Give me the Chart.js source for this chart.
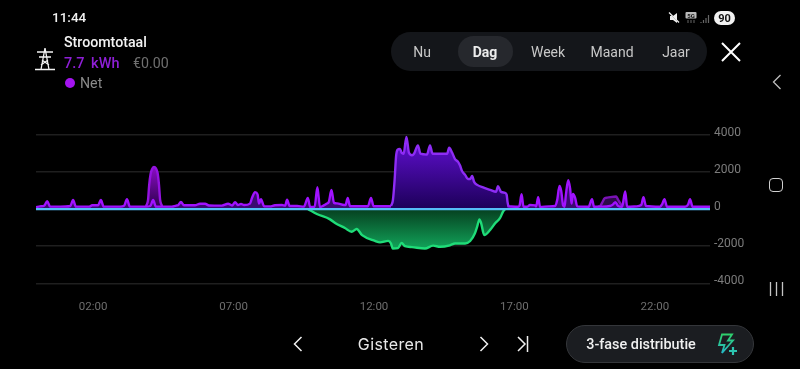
<!DOCTYPE html>
<html><head><meta charset="utf-8">
<style>
html,body{margin:0;padding:0;background:#000;width:800px;height:369px;overflow:hidden;font-family:Roboto,sans-serif;color:#fff}
canvas{position:absolute;left:0;top:0}
.t{position:absolute;white-space:nowrap;transform:translate(-50%,-50%)}
.l{position:absolute;white-space:nowrap;transform:translateY(-50%)}
.box{position:absolute}
svg{position:absolute;overflow:visible}
</style></head><body>
<canvas id="c" width="800" height="369"></canvas>

<div class="l" style="left:52px;top:17px;font-size:13.5px;font-weight:500;color:#f0f0f0">11:44</div>
<svg style="left:668px;top:11px" width="70" height="14" viewBox="0 0 70 14">
 <path d="M2 5h3l4-3v10l-4-3H2z" fill="#eee"/><path d="M1 2l10 10" stroke="#000" stroke-width="1"/><path d="M1 1.5l10 10" stroke="#eee" stroke-width="1.2"/>
 <rect x="17.5" y="1" width="11" height="6.5" rx="1" fill="#bbb"/>
 <text x="23" y="6.6" font-size="6" font-weight="700" text-anchor="middle" fill="#111" font-family="Roboto">5G</text>
 <path d="M20 9v3M23 9v3M26 9v3" stroke="#666" stroke-width="1"/>
 <path d="M33 12v-1M35.500 12v-3M38 12v-5M40.500 12v-8" stroke="#666" stroke-width="1.200"/>
 <rect x="46" y="0" width="21" height="14" rx="7" fill="#f2f2f2"/>
 <text x="56.500" y="11" font-size="11" font-weight="700" text-anchor="middle" fill="#111" font-family="Roboto">90</text>
</svg>

<svg style="left:34px;top:47px" width="22" height="24" viewBox="0 0 22 24" fill="none" stroke="#f2f2f2" stroke-width="1.300">
 <path d="M1 22.500h20M3 5h16M5 10h12M11 1L7 22.500M11 1l4 21.500M8 13l7 5M14 13l-7 5" />
</svg>
<div class="l" style="left:64px;top:42px;font-size:14.2px;font-weight:500;color:#f4f4f4">Stroomtotaal</div>
<div class="l" style="left:64px;top:63px;font-size:14.5px;font-weight:500;color:#8e1fd6;word-spacing:3px">7.7 kWh</div>
<div class="l" style="left:133px;top:63px;font-size:14.2px;color:#707070">€0.00</div>
<div class="box" style="left:65px;top:78px;width:10px;height:10px;border-radius:50%;background:#a414f0"></div>
<div class="l" style="left:80px;top:83px;font-size:14.2px;color:#8a8a8a">Net</div>

<div class="box" style="left:391px;top:32px;width:316px;height:39px;border-radius:20px;background:#14161a"></div>
<div class="box" style="left:458px;top:36px;width:55px;height:31px;border-radius:16px;background:#26282d"></div>
<div class="t" style="left:422px;top:51.500px;font-size:14px;color:#c8c8c8">Nu</div>
<div class="t" style="left:485px;top:51.500px;font-size:14px;font-weight:700;color:#ececec">Dag</div>
<div class="t" style="left:548px;top:51.500px;font-size:14px;color:#c8c8c8">Week</div>
<div class="t" style="left:612px;top:51.500px;font-size:14px;color:#c8c8c8">Maand</div>
<div class="t" style="left:676px;top:51.500px;font-size:14px;color:#c8c8c8">Jaar</div>
<svg style="left:722px;top:43px" width="18" height="18"><path d="M0 0l18 18M18 0L0 18" stroke="#fff" stroke-width="2"/></svg>

<svg style="left:772px;top:74px" width="10" height="16"><path d="M8.500 1L1.500 8l7 7" stroke="#bdbdbd" stroke-width="1.300" fill="none"/></svg>
<div class="box" style="left:769px;top:178px;width:12px;height:12px;border:1.500px solid #d0d0d0;border-radius:4px"></div>
<svg style="left:769px;top:282px" width="16" height="14"><path d="M1.500 0v14M7.500 0v14M13.500 0v14" stroke="#c4c4c4" stroke-width="1.300"/></svg>

<svg style="left:293px;top:336px" width="10" height="16"><path d="M8.500 1L1.500 8l7 7" stroke="#f0f0f0" stroke-width="1.500" fill="none"/></svg>
<div class="t" style="left:391px;top:344px;font-size:16px;letter-spacing:.4px;font-family:Inter;color:#e8e8e8">Gisteren</div>
<svg style="left:479px;top:336px" width="10" height="16"><path d="M1.500 1l7 7-7 7" stroke="#f0f0f0" stroke-width="1.500" fill="none"/></svg>
<svg style="left:517px;top:336px" width="12" height="16"><path d="M1 1l7 7-7 7" stroke="#f0f0f0" stroke-width="1.500" fill="none"/><path d="M10.500 0v16" stroke="#f0f0f0" stroke-width="1.500"/></svg>
<div class="box" style="left:566px;top:325px;width:186px;height:36px;border:1px solid #34363a;border-radius:19px;background:#1b1d21"></div>
<div class="t" style="left:641px;top:344px;font-size:14.4px;font-weight:500;color:#f0f0f0">3-fase distributie</div>
<svg style="left:716px;top:333px" width="22" height="24" viewBox="0 0 22 24"><defs><linearGradient id="b" x1="0" y1="0" x2="0" y2="1"><stop offset="0" stop-color="#2fd06c"/><stop offset="1" stop-color="#26b8c8"/></linearGradient></defs>
 <path d="M6 1.500h10l-4 6h5L6 20l2.500-8H3z" fill="none" stroke="url(#b)" stroke-width="1.800"/>
 <path d="M17 14v8M13 18h8" stroke="#2cc4b0" stroke-width="2.200"/></svg>

<script src="https://cdn.jsdelivr.net/npm/chart.js@4"></script>
<script>
const xTickHours = [2, 7, 12, 17, 22];
const yTickValues = [4000, 2000, 0, -2000, -4000];

const netHours = [0,.14,.3,.4,.5,1.05,1.22,1.32,1.42,1.9,2,2.21,2.31,2.41,3,3.14,3.24,3.34,3.9,4.07,4.17,4.27,4.84,4.99,5.06,5.16,5.27,5.66,5.84,6.02,6.16,6.62,6.84,6.98,7.09,7.19,7.3,7.41,7.62,7.69,7.8,7.89,7.94,8.01,8.12,8.33,8.51,8.76,8.87,8.94,9.03,9.3,9.54,9.68,9.76,9.92,10.02,10.11,10.22,10.36,10.43,10.52,10.61,10.72,10.97,11.02,11.1,11.18,11.82,11.93,12.02,12.64,12.65,16.8,16.81,17.17,17.22,17.29,17.36,17.49,17.59,17.77,17.81,17.88,17.95,18.27,18.48,18.56,18.64,18.7,18.77,18.82,18.87,18.95,19.02,19.07,19.12,19.2,19.27,19.69,19.72,19.8,19.87,20.09,20.44,20.55,20.63,20.73,20.87,20.9,20.98,21.05,21.37,21.55,21.63,21.72,22.22,22.29,22.38,22.47,23.11,23.22,23.29,23.38,24];
const netWatts = [110,150,200,430,135,140,170,490,135,135,210,210,490,135,135,190,540,135,135,170,490,135,135,190,210,390,210,210,290,290,200,190,290,200,380,220,280,220,300,600,920,800,300,540,160,150,210,220,190,510,170,170,135,610,120,120,1180,110,180,300,400,1030,340,310,220,220,610,160,160,610,160,160,null,null,150,130,200,800,130,130,220,200,150,640,120,150,170,500,1250,1000,200,130,800,1560,1100,300,820,600,150,130,250,540,130,135,170,260,380,170,130,300,950,130,150,220,640,170,130,250,540,130,130,250,540,130,130];

const humpHours = [3.92,3.99,4.03,4.08,4.13,4.2,4.27,4.33,4.38,4.42,4.49];
const humpWatts = [170,500,1300,1900,2150,2270,2200,1950,1300,500,170];

const eveningHours = [20.01,20.09,20.16,20.25,20.34,20.66,20.73,20.83,20.94];
const eveningWatts = [135,170,350,590,620,680,500,250,135];

const blockHours = [12.64,12.71,12.77,12.82,12.87,12.96,13.02,13.09,13.19,13.28,13.39,13.46,13.6,13.69,13.92,14.03,14.12,14.64,14.71,14.82,14.92,15.03,15.1,15.17,15.28,15.38,15.46,15.53,15.6,15.71,15.92,16.17,16.38,16.45,16.52,16.56,16.7,16.76,16.79,16.83];
const blockWatts = [170,495,1580,2820,3200,3250,3040,2990,3900,3040,2910,2990,3440,2990,2940,3440,2990,2990,3310,3040,2700,2550,2350,2060,1850,1630,1630,1790,1470,1310,1170,1040,930,1240,1040,930,880,770,390,100];

const exportHours = [9.69,10,10.47,10.65,11,11.24,11.42,11.61,12.07,12.25,12.54,12.64,12.7,12.89,13.02,13.14,13.39,13.85,14.14,14.39,14.74,14.92,15.28,15.46,15.63,15.71,15.79,15.85,15.96,16.17,16.35,16.52,16.63,16.7];
const exportWatts = [0,-260,-550,-750,-1020,-1220,-1070,-1400,-1710,-1790,-1710,-1850,-2120,-2100,-1830,-2000,-2050,-2120,-1970,-2030,-1950,-1850,-1850,-1720,-1300,-940,-550,-750,-1400,-1120,-760,-490,-135,0];

const zeroHours = [0, 24];
const zeroWatts = [0, 0];

const pts = (xs, ys) => xs.map((x, i) => ({x, y: ys[i]}));
const grad = (stops) => (ctx) => {
  const {chart} = ctx;
  const a = chart.chartArea;
  if (!a) return 'transparent';
  const g = chart.ctx.createLinearGradient(0, a.top, 0, a.bottom);
  stops.forEach(([o, c]) => g.addColorStop(o, c));
  return g;
};
const purpleFill = grad([[0,'#6410d8'],[.5,'#1c0058']]);
const humpFill = grad([[.15,'#a010e0'],[.5,'#2a0048']]);
const greenFill = grad([[.5,'#064020'],[.78,'#12a85c'],[1,'#18c068']]);
const base = {pointRadius:0, pointHoverRadius:0, borderWidth:2.4, cubicInterpolationMode:'monotone', spanGaps:false, parsing:false};

new Chart(document.getElementById('c'), {
  type:'line',
  data:{datasets:[
    {...base, label:'Export', data:pts(exportHours, exportWatts), borderColor:'#1fdc78', backgroundColor:greenFill, fill:'origin', order:5},
    {...base, label:'Block', data:pts(blockHours, blockWatts), borderColor:'#8e2cf5', backgroundColor:purpleFill, fill:'origin', order:4},
    {...base, label:'Hump', data:pts(humpHours, humpWatts), borderColor:'#9412e0', backgroundColor:humpFill, fill:'origin', order:4},
    {...base, label:'Evening', data:pts(eveningHours, eveningWatts), borderColor:'#7a12b4', backgroundColor:'#2c0a48', fill:'origin', order:4},
    {...base, label:'Net', data:pts(netHours, netWatts), borderColor:'#a012ff', backgroundColor:'#3a0a70', fill:'origin', order:3},
    {...base, label:'Zero', data:pts(zeroHours, zeroWatts), borderColor:'#55bdf7', borderWidth:2.4, fill:false, order:1}
  ]},
  options:{
    responsive:false, animation:false, events:[],
    layout:{padding:{left:36,top:135,right:0,bottom:0}},
    plugins:{legend:{display:false},tooltip:{enabled:false}},
    scales:{
      x:{type:'linear',min:0,max:24,
        grid:{display:false},border:{display:false},
        afterBuildTicks:s=>{s.ticks=xTickHours.map(value=>({value}));},
        afterFit:s=>{s.height=85.7;},
        ticks:{padding:9,labelOffset:1,maxRotation:0,autoSkip:false,color:'#6e6e6e',font:{family:'Roboto',size:11.5},
          callback:v=>String(v).padStart(2,'0')+':00'}},
      y:{type:'linear',position:'right',min:-4000,max:4000,
        grid:{color:'#1f1f1f',lineWidth:1.5,drawTicks:false},border:{display:false},
        afterBuildTicks:s=>{s.ticks=yTickValues.map(value=>({value}));},
        afterFit:s=>{s.width=90;},
        ticks:{padding:4,labelOffset:-2,color:'#7c7c7c',font:{family:'Roboto',size:12},callback:v=>String(v)}}
    }
  }
});
</script>
</body></html>
